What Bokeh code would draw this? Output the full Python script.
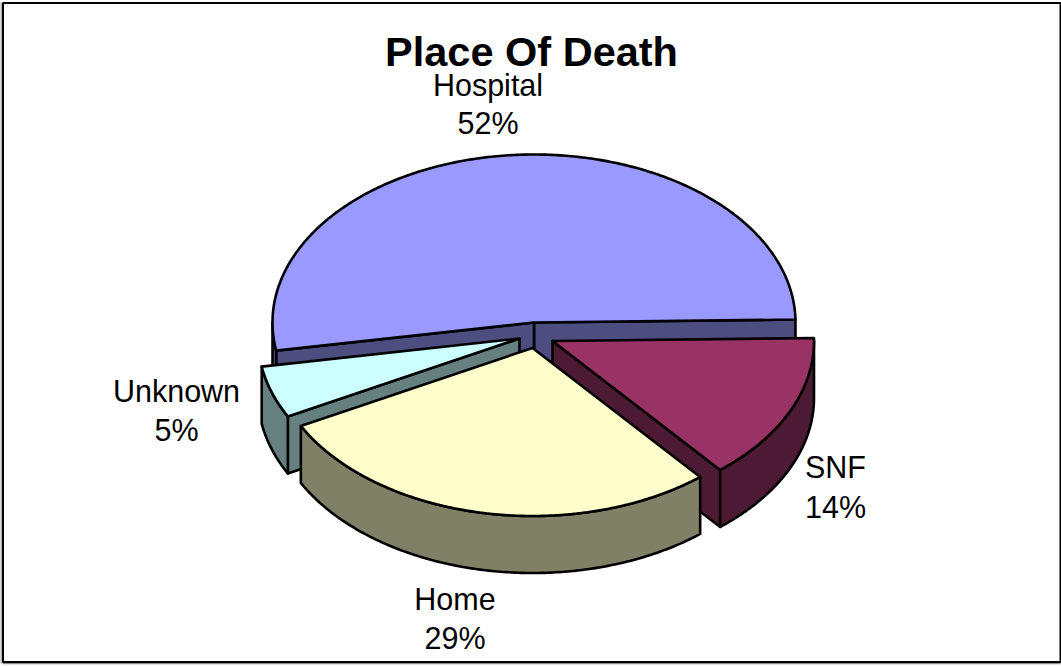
import numpy as np
from bokeh.plotting import figure
from bokeh.models import Range1d
from bokeh.core.properties import value
from bokeh.embed import file_html
from bokeh.resources import INLINE

title = "Place Of Death"
categories = ["Hospital", "SNF", "Home", "Unknown"]
shares = [52.4, 14.2, 28.4, 5.0]
pct_labels = ["52%", "14%", "29%", "5%"]
top_colors = ["#9999FF", "#993366", "#FFFFCC", "#CCFFFF"]
wall_colors = ["#4D4D80", "#4D1A33", "#808066", "#668080"]

# layout (pixels)
W, H = 1061, 666
RX, RY, DEPTH = 261.5, 168, 57
START_DEG = 1.0
LW = 2.6
apex = {"Hospital": (533.5, 322), "SNF": (552, 340.5), "Home": (532, 347.5), "Unknown": (519, 338)}
label_pos = {"Hospital": (487.5, 84, 122), "SNF": (835, 466, 506), "Home": (454.5, 598, 637), "Unknown": (176, 390, 429)}
draw_order = ["Hospital", "Unknown", "SNF", "Home"]
FONT = value("Liberation Sans")

p = figure(width=W, height=H, output_backend="svg", toolbar_location=None,
           x_range=Range1d(0, W), y_range=Range1d(H, 0), min_border=0)
p.axis.visible = False
p.grid.visible = False
p.outline_line_color = None

# chart frame
p.line([0.5, 0.5], [2, H - 3], line_color="#999999", line_width=1.5)
p.line([2, W - 1], [663, 663], line_color="#888888", line_width=1.5)
p.quad(left=[2.5], right=[1060], top=[2.5], bottom=[661.5], fill_color="white", line_color="black", line_width=2)

# slice spans, clockwise; the first slice ends at the start angle
spans = {}
a = START_DEG + shares[0] * 3.6
for name, s in zip(categories, shares):
    spans[name] = (a - s * 3.6, a)
    a -= s * 3.6


def rim(name, a0, a1, n=160):
    t = np.radians(np.linspace(a0, a1, n))
    cx, cy = apex[name]
    return cx + RX * np.cos(t), cy - RY * np.sin(t)


for name in draw_order:
    i = categories.index(name)
    a0, a1 = spans[name]
    cx, cy = apex[name]
    wall = wall_colors[i]
    style = dict(fill_color=wall, line_color="black", line_width=LW, line_join="round")
    # radial faces that turn towards the viewer
    faces = []
    if np.cos(np.radians(a0)) > 0:
        faces.append(a0)
    if np.cos(np.radians(a1)) < 0:
        faces.append(a1)
    for ang in faces:
        rx_, ry_ = rim(name, ang, ang, 1)
        p.patch([cx, rx_[0], rx_[0], cx], [cy, ry_[0], ry_[0] + DEPTH, cy + DEPTH], **style)
    # outer wall: every lower-half stretch of the rim
    k0 = np.floor(a0 / 360)
    for k in (k0, k0 + 1):
        lo = max(a0, 180 + 360 * k)
        hi = min(a1, 360 + 360 * k)
        if hi > lo:
            xs, ys = rim(name, lo, hi)
            p.patch(np.r_[xs, xs[::-1]], np.r_[ys, ys[::-1] + DEPTH], **style)
    # top
    xs, ys = rim(name, a0, a1, 300)
    p.patch(np.r_[cx, xs], np.r_[cy, ys], fill_color=top_colors[i], line_color="black", line_width=LW, line_join="round")

p.text([531], [51], text=[title], text_font=FONT, text_font_style="bold", text_font_size="41.5px",
       text_align="center", text_baseline="middle", text_color="black")
for name, pct in zip(categories, pct_labels):
    x, y1, y2 = label_pos[name]
    p.text([x, x], [y1, y2], text=[name, pct], text_font=FONT, text_font_size="30.5px",
           text_align="center", text_baseline="middle", text_color="black")

open("out.html", "w").write(file_html(p, INLINE))
